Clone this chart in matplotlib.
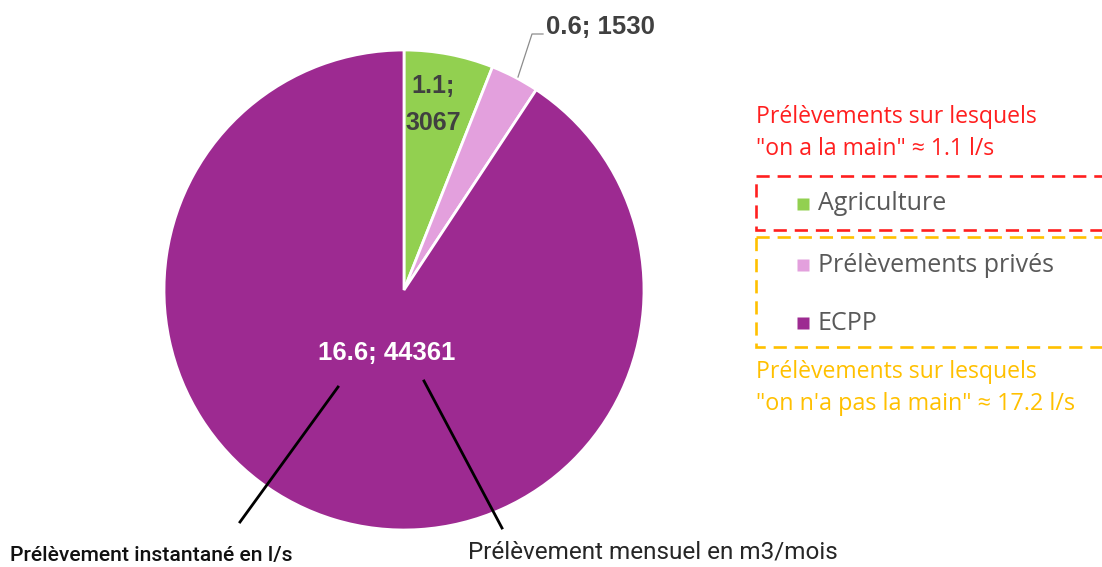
import matplotlib.pyplot as plt
from matplotlib.patches import Rectangle

# data
categories = ["Agriculture", "Prélèvements privés", "ECPP"]
debit_ls = [1.1, 0.6, 16.6]          # l/s
volume_m3 = [3067, 1530, 44361]      # m3/mois
colors = ["#92D050", "#E3A0DD", "#9D2A91"]

W, H = 1102, 567
fig = plt.figure(figsize=(W / 100, H / 100), dpi=100)
ax = fig.add_axes([0, 0, 1, 1])

# y axis inverted so everything is placed in pixel-like coords;
# start at the top and go clockwise on screen
ax.pie(debit_ls, colors=colors, startangle=270, counterclock=True,
       center=(404, 290), radius=240,
       wedgeprops=dict(edgecolor="white", linewidth=2))
ax.set_xlim(0, W)
ax.set_ylim(H, 0)
ax.set_aspect("equal")
ax.axis("off")

lab = "Liberation Sans"
# slice labels
ax.text(433, 86, f"{debit_ls[0]};", ha="center", va="center",
        fontsize=18, fontweight="bold", color="#404040", family=lab)
ax.text(433, 123, f"{volume_m3[0]}", ha="center", va="center",
        fontsize=18, fontweight="bold", color="#404040", family=lab)
ax.plot([518, 532, 543], [77, 34, 34], color="#8c8c8c", lw=0.9)
ax.text(546, 27, f"{debit_ls[1]}; {volume_m3[1]}", ha="left", va="center",
        fontsize=18.5, fontweight="bold", color="#404040", family=lab)
ax.text(387, 353, f"{debit_ls[2]}; {volume_m3[2]}", ha="center", va="center",
        fontsize=18.5, fontweight="bold", color="white", family=lab)

# pointers to the label parts
ax.plot([338, 240], [387, 522], color="black", lw=2)
ax.plot([424, 502], [381, 528], color="black", lw=2)
ax.text(10, 555, "Prélèvement instantané en l/s", ha="left", va="center",
        fontsize=15.2, color="#111111", family="Roboto", fontweight="medium")
ax.text(468, 552, "Prélèvement mensuel en m3/mois", ha="left", va="center",
        fontsize=17.5, color="#262626", family="Roboto")

# legend with groups
red = "#FF1F1F"
gold = "#FFC000"
txt = "Open Sans"
ax.text(756, 117, "Prélèvements sur lesquels", color=red, fontsize=16.6,
        family=txt, va="center")
ax.text(756, 149, "\"on a la main\" ≈ 1.1 l/s", color=red, fontsize=16.6,
        family=txt, va="center")
ax.add_patch(Rectangle((756, 176), 400, 54, fill=False, edgecolor=red,
                       lw=1.9, linestyle=(0, (5, 3))))
ax.add_patch(Rectangle((756, 237), 400, 110, fill=False, edgecolor=gold,
                       lw=1.9, linestyle=(0, (5, 3))))
ax.text(756, 372, "Prélèvements sur lesquels", color=gold, fontsize=16.6,
        family=txt, va="center")
ax.text(756, 404, "\"on n'a pas la main\" ≈ 17.2 l/s", color=gold, fontsize=16.8,
        family=txt, va="center")

leg_y = [204, 265, 323]
for name, c, y in zip(categories, colors, leg_y):
    ax.plot([803], [y], marker="s", ms=8.5, color=c, mec="none")
    ax.text(818, y, name, color="#595959", fontsize=18, family=txt,
            va="center")

fig.savefig("out.png", dpi=100)
